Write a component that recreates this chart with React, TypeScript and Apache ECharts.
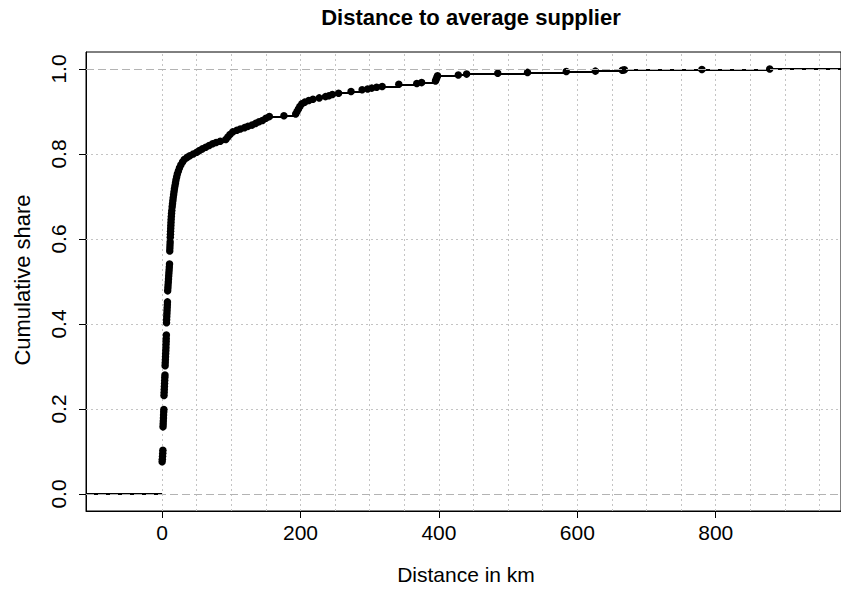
import React, { useEffect, useRef } from "react";
import * as echarts from "echarts";

const titleText = "Distance to average supplier";
const xTitle = "Distance in km";
const yTitle = "Cumulative share";

const xTickValues = [0, 200, 400, 600, 800];
const yTickValues = [0, 0.2, 0.4, 0.6, 0.8, 1.0];
const xGridValues = [0, 50, 100, 150, 200, 250, 300, 350, 400, 450, 500, 550, 600, 650, 700, 750, 800, 850, 900, 950];
const yGridValues = [0.2, 0.4, 0.6, 0.8];
const yRefValues = [0, 1];

const distances = [
  0, 0.3, 0.6, 0.9, 1.1,
  1.3, 1.5, 1.7, 1.9, 2.1, 2.3, 2.5,
  2.7, 2.9, 3.1, 3.3, 3.5, 3.7, 3.9, 4.1,
  4.3, 4.5, 4.7, 4.9, 5.1, 5.3, 5.5,
  5.6, 5.8, 5.9, 6.1,
  6.3, 6.5, 6.7, 6.9, 7.1, 7.3, 7.5, 7.7,
  8, 8.3, 8.6, 8.9, 9.2, 9.5, 9.8, 10.1, 10.4, 10.7,
  11, 11.2, 11.4, 11.6,
  11.8, 12, 12.2, 12.4, 12.6, 12.8, 13, 13.3, 13.6, 14,
  14.5, 15, 15.5, 16, 16.6, 17.2, 17.8, 18.5, 19.3,
  20, 21, 22, 23.5, 25, 27, 29.5, 32,
  36, 40, 45, 50, 54,
  58, 63, 68, 73, 78, 84,
  92, 95, 98, 102,
  108, 113, 119, 124, 130, 135, 140, 145, 150, 155,
  176, 193, 195, 197, 199, 202, 206, 212, 218, 227,
  236, 241, 246, 255, 273, 289, 297, 303, 310, 318,
  342, 368, 375, 395, 396, 397, 398,
  428, 440, 485, 528, 584, 626, 665, 668, 780, 878,
];

const shares = [
  0.076, 0.082, 0.089, 0.096, 0.103,
  0.158, 0.165, 0.172, 0.179, 0.186, 0.193, 0.199,
  0.232, 0.239, 0.246, 0.253, 0.26, 0.267, 0.274, 0.28,
  0.302, 0.309, 0.316, 0.323, 0.33, 0.337, 0.344,
  0.352, 0.359, 0.366, 0.374,
  0.403, 0.41, 0.417, 0.424, 0.431, 0.438, 0.445, 0.452,
  0.478, 0.485, 0.492, 0.499, 0.506, 0.513, 0.52, 0.527, 0.534, 0.541,
  0.572, 0.579, 0.586, 0.593,
  0.604, 0.611, 0.618, 0.625, 0.632, 0.639, 0.646, 0.653, 0.66, 0.667,
  0.676, 0.683, 0.69, 0.697, 0.704, 0.711, 0.718, 0.725, 0.732,
  0.739, 0.746, 0.753, 0.76, 0.767, 0.774, 0.781, 0.787,
  0.792, 0.796, 0.8, 0.804, 0.808,
  0.812, 0.816, 0.82, 0.824, 0.827, 0.83,
  0.834, 0.84, 0.846, 0.852,
  0.856, 0.859, 0.862, 0.865, 0.868, 0.872, 0.876, 0.879, 0.884, 0.888,
  0.89, 0.894, 0.9, 0.906, 0.912, 0.918, 0.922, 0.926, 0.929, 0.932,
  0.935, 0.937, 0.94, 0.943, 0.947, 0.951, 0.953, 0.955, 0.957, 0.959,
  0.964, 0.966, 0.968, 0.972, 0.976, 0.98, 0.984,
  0.986, 0.988, 0.99, 0.992, 0.994, 0.995, 0.997, 0.998, 0.999, 1.0,
];

const X_MIN = -110;
const X_MAX = 981;
const Y_MIN = -0.04;
const Y_MAX = 1.04;

const FONT = "'Liberation Sans', Arial, sans-serif";

export default function App() {
  const ref = useRef<HTMLDivElement>(null);

  useEffect(() => {
    if (!ref.current) return;
    const chart = echarts.init(ref.current, null, { renderer: "svg" });

    const segs: any[] = [];
    segs.push({ coords: [[X_MIN, 0], [distances[0], 0]] });
    for (let i = 0; i < distances.length; i++) {
      const x1 = distances[i];
      const x2 = i + 1 < distances.length ? distances[i + 1] : X_MAX;
      segs.push({ coords: [[x1, shares[i]], [x2, shares[i]]] });
    }
    const points = distances.map((d, i) => [d, shares[i]]);

    const option: any = {
      animation: false,
      backgroundColor: "#ffffff",
      title: {
        text: titleText,
        left: 466,
        top: 1,
        textAlign: "center",
        textStyle: { fontFamily: FONT, fontWeight: "bold", fontSize: 22, color: "#000" },
      },
      grid: {
        left: 86,
        top: 52,
        width: 758,
        height: 459,
        show: true,
        borderColor: "#000",
        borderWidth: 1,
        backgroundColor: "transparent",
      },
      xAxis: {
        type: "value",
        min: X_MIN,
        max: X_MAX,
        splitLine: { show: false },
        axisLine: { show: true, onZero: false, lineStyle: { color: "#000", width: 1 } },
        axisTick: { show: true, customValues: xTickValues, length: 7, inside: false, lineStyle: { color: "#000" } },
        axisLabel: { customValues: xTickValues, margin: 11, fontSize: 21, color: "#000", fontFamily: FONT },
      },
      yAxis: {
        type: "value",
        min: Y_MIN,
        max: Y_MAX,
        splitLine: { show: false },
        axisLine: { show: true, onZero: false, lineStyle: { color: "#000", width: 1 } },
        axisTick: { show: true, customValues: yTickValues, length: 7, inside: false, lineStyle: { color: "#000" } },
        axisLabel: {
          customValues: yTickValues,
          rotate: 90,
          margin: 17,
          fontSize: 21,
          color: "#000",
          fontFamily: FONT,
          formatter: (v: number) => v.toFixed(1),
        },
      },
      graphic: [
        {
          type: "text",
          x: 466,
          y: 574,
          style: { text: xTitle, font: `21px ${FONT}`, fill: "#000", textAlign: "center", textVerticalAlign: "middle" },
        },
        {
          type: "text",
          x: 22,
          y: 280,
          rotation: Math.PI / 2,
          style: { text: yTitle, font: `22px ${FONT}`, fill: "#000", textAlign: "center", textVerticalAlign: "middle" },
        },
      ],
      series: [
        {
          type: "line",
          data: [],
          silent: true,
          markLine: {
            silent: true,
            symbol: "none",
            z: 1,
            label: { show: false },
            lineStyle: { color: "#c4c4c4", type: [2, 3], width: 1 },
            data: [
              ...xGridValues.map((v) => ({ xAxis: v })),
              ...yGridValues.map((v) => ({ yAxis: v })),
            ],
          },
        },
        {
          type: "lines",
          coordinateSystem: "cartesian2d",
          silent: true,
          z: 3,
          lineStyle: { color: "#000", width: 2, opacity: 1 },
          data: segs,
        },
        {
          type: "scatter",
          silent: true,
          z: 4,
          symbol: "circle",
          symbolSize: 7.5,
          itemStyle: { color: "#000", opacity: 1 },
          data: points,
        },
        {
          type: "line",
          data: [],
          silent: true,
          markLine: {
            silent: true,
            symbol: "none",
            z: 6,
            label: { show: false },
            lineStyle: { color: "#b3b3b3", type: [8, 4], width: 1.2 },
            data: yRefValues.map((v) => ({ yAxis: v })),
          },
        },
      ],
    };

    chart.setOption(option);
    return () => chart.dispose();
  }, []);

  return (
    <div
      ref={ref}
      style={{ position: "fixed", left: 0, top: 0, width: 841, height: 590, background: "#fff" }}
    />
  );
}
